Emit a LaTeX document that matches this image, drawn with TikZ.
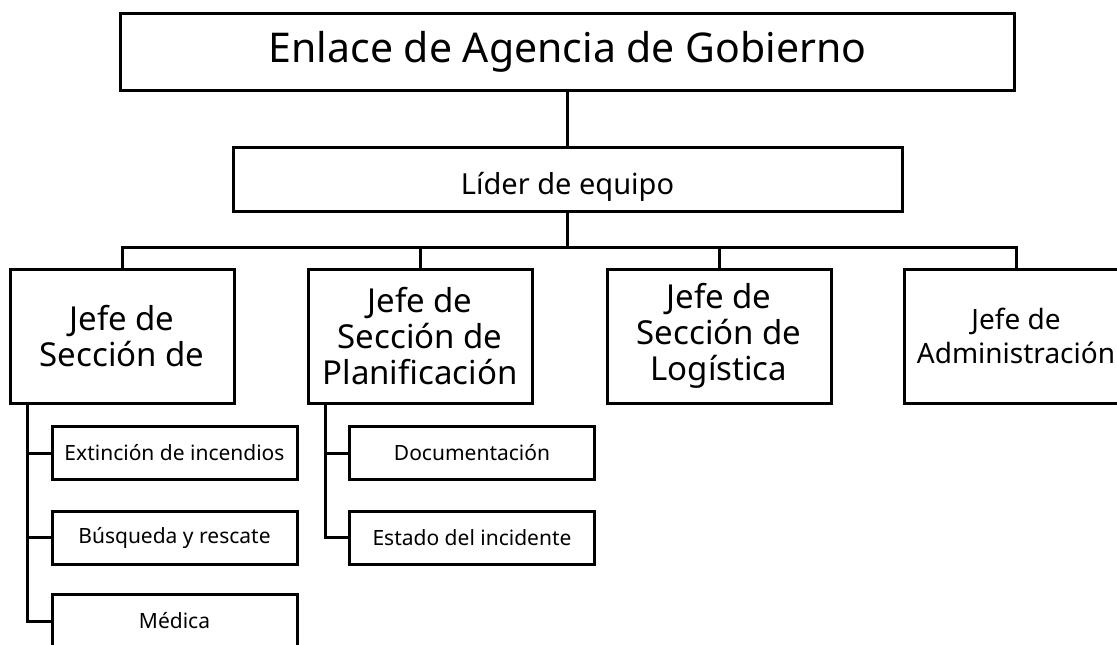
\documentclass[tikz,border=0pt]{standalone}
\usepackage{fontspec}
\setmainfont{Noto Sans}
\begin{document}
\begin{tikzpicture}
[x=1pt,y=-1pt,
  boxdecorate/.style={shape=rectangle,draw,line width=3pt,inner sep=0pt,align=center},
  subdecorate/.style={boxdecorate,minimum width=245pt,minimum height=53pt,font=\fontsize{21}{24}\selectfont},
  linedecorate/.style={-,line width=3pt}]
\useasboundingbox (0,0) rectangle (1117,645);
\clip (0,0) rectangle (1117,645);
%% top boxes
\node (enlace) at (567.5,51.5) [boxdecorate,minimum width=894pt,minimum height=77pt,
  font=\fontsize{41}{45}\selectfont] {Enlace de Agencia de Gobierno};
\node (lider) at (567.5,179) [boxdecorate,minimum width=669pt,minimum height=64pt,
  text height=30pt,text depth=0pt,font=\fontsize{29}{33}\selectfont] {Líder de equipo};
%% section chiefs
\foreach \nodename/\x/\size/\lead/\txt in {operaciones/122/33/36/{Jefe de\\Sección de},
  planificacion/420/33/36/{Jefe de\\Sección de\\Planificación},
  logistica/719/33/36/{Jefe de\\Sección de\\Logística},
  administracion/1016/28/34/{Jefe de\\Administración}} {
  \node (\nodename) at (\x,336) [boxdecorate,minimum width=224pt,minimum height=134pt,
    font=\fontsize{\size}{\lead}\selectfont] {\txt};
}
%% units
\foreach \nodename/\x/\y/\txt in {extincion/174.5/453/Extinción de incendios,
  busqueda/174.5/537.5/Búsqueda y rescate, medica/174.5/621/Médica,
  documentacion/472/453/Documentación, estado/472/537.5/Estado del incidente} {
  \node (\nodename) at (\x,\y) [subdecorate] {\txt};
}
%% edges or lines
\coordinate (bus) at (567.5,247);
\draw[linedecorate] (enlace) -- (lider);
\draw[linedecorate] (lider) -- (bus);
\foreach \endnode in {operaciones, planificacion, logistica, administracion}
  \draw[linedecorate] (bus) -| (\endnode);
\foreach \startnode/\endnode in {operaciones/extincion, operaciones/busqueda,
  operaciones/medica, planificacion/documentacion, planificacion/estado}
  \draw[linedecorate] ([xshift=19pt]\startnode.south west) |- (\endnode);
\end{tikzpicture}
\end{document}
